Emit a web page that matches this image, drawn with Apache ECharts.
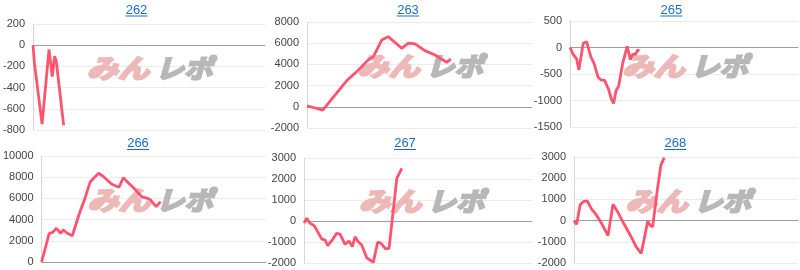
<!DOCTYPE html>
<html><head><meta charset="utf-8">
<script src="https://cdn.jsdelivr.net/npm/echarts@6/dist/echarts.min.js"></script>
<style>html,body{margin:0;padding:0;background:#fff}#c{width:800px;height:270px}</style>
</head><body><div id="c"></div>
<script>
// Chart titles
const titles = ['262', '263', '265', '266', '267', '268'];
// Y tick settings per chart
const yMins = [-800, -2000, -1500, 0, -2000, -2000];
const yMaxs = [200, 8000, 500, 10000, 3000, 3000];
const yIntervals = [200, 2000, 500, 2000, 1000, 1000];
// Series: x = progress (% of x axis), y = value
const x262 = [0, 0.6, 3.9, 6.9, 8.3, 9.3, 10.0, 13.2];
const y262 = [0, -167, -745, -40, -295, -105, -145, -755];
const x263 = [0, 7.0, 17.6, 22.1, 27.2, 29.5, 33.2, 36.1, 42.1, 45.0, 48.0, 52.4, 56.9, 62.1, 63.9];
const y263 = [100, -310, 2450, 3320, 4420, 4740, 6300, 6620, 5520, 6000, 5930, 5300, 4890, 4200, 4490];
const x265 = [0, 1.4, 2.9, 3.9, 5.8, 7.3, 9.1, 10.6, 12.3, 13.5, 15.2, 17.0, 18.1, 19.1, 20.3, 21.3, 23.2, 25.1, 26.5, 27.5, 28.7, 29.7, 30.4];
const y265 = [0, -130, -215, -420, 80, 110, -170, -310, -560, -610, -620, -800, -970, -1055, -800, -735, -280, 20, -230, -130, -130, -45, -70];
const x266 = [0, 3.4, 4.8, 6.6, 8.5, 9.7, 11.5, 13.7, 16.6, 19.3, 21.7, 25.4, 27.6, 31.3, 34.5, 36.4, 38.6, 41.5, 44.5, 48.1, 51.1, 53.0];
const y266 = [0, 2710, 2770, 3180, 2710, 3020, 2710, 2480, 4430, 6000, 7580, 8370, 8050, 7330, 7050, 7950, 7480, 6890, 6160, 5940, 5220, 5690];
const x267 = [0, 1.2, 2.6, 4.5, 7.8, 9.2, 10.4, 12.1, 14.3, 15.8, 18.0, 19.7, 21.2, 22.4, 23.8, 25.3, 27.5, 30.4, 32.3, 33.8, 35.8, 37.3, 40.7, 42.9];
const y267 = [-100, 130, -110, -220, -860, -900, -1170, -950, -590, -630, -1110, -950, -1220, -750, -990, -1140, -1750, -1970, -1010, -1060, -1330, -1300, 2030, 2510];
const x268 = [0, 1.2, 2.7, 4.1, 5.9, 7.8, 10.0, 12.3, 15.2, 17.4, 19.6, 22.6, 25.5, 27.7, 30.0, 31.4, 32.9, 33.9, 35.1, 37.3, 38.8, 40.3];
const y268 = [0, -175, 735, 890, 925, 550, 265, -130, -710, 770, 390, -210, -760, -1230, -1545, -835, -20, -210, -290, 1520, 2620, 2970];

const xs = [x262, x263, x265, x266, x267, x268];
const ys = [y262, y263, y265, y266, y267, y268];

// Layout (px)
const grids = [
  {left: 32, top: 24, width: 233, height: 106},
  {left: 307, top: 22, width: 225, height: 106},
  {left: 570, top: 21, width: 228, height: 106},
  {left: 39, top: 156, width: 227, height: 106},
  {left: 304, top: 158, width: 228, height: 105},
  {left: 574, top: 157, width: 224, height: 106}
];
const titlePos = [[136.5, 10], [408, 10], [671.3, 10], [138, 143.5], [405, 143.5], [675.3, 143.5]];
const markPos = [[149.5, 68], [420, 66], [685, 66.5], [150, 200.5], [421.5, 201.5], [688, 201.5]];

const blue = '#1c6cc7';
const markFont = 'italic bold 26px "Noto Sans CJK JP", sans-serif';
const pink = 'rgb(236,184,184)';
const grey = 'rgb(184,184,184)';
const graphic = [];
titles.forEach((t, i) => {
  const [cx, cy] = titlePos[i];
  graphic.push({type: 'text', x: cx, y: cy, z: 10,
    style: {text: t, fill: blue, font: '13px "Liberation Sans", Arial, sans-serif', textAlign: 'center', textVerticalAlign: 'middle'}});
  graphic.push({type: 'line', z: 10, shape: {x1: cx - 11, y1: cy + 6, x2: cx + 11, y2: cy + 6},
    style: {stroke: blue, lineWidth: 1}});
  const [mx, my] = markPos[i];
  graphic.push({type: 'text', x: mx - 31.5, y: my, scaleX: 1.2, z: 1, silent: true,
    style: {text: 'みん', fill: pink, stroke: pink, lineWidth: 2.2, font: markFont, textAlign: 'center', textVerticalAlign: 'middle'}});
  graphic.push({type: 'text', x: mx + 34.5, y: my, scaleX: 1.1, z: 1, silent: true,
    style: {text: 'レポ', fill: grey, stroke: grey, lineWidth: 2.2, font: markFont, textAlign: 'center', textVerticalAlign: 'middle'}});
});

const option = {
  animation: false,
  grid: grids.map(g => Object.assign({containLabel: false}, g)),
  xAxis: grids.map((g, i) => ({
    type: 'value', gridIndex: i, min: 0, max: 100,
    axisLabel: {show: false}, axisTick: {show: false}, splitLine: {show: false},
    axisLine: {show: true, onZero: true, lineStyle: {color: '#9e9e9e', width: 1}}
  })),
  yAxis: grids.map((g, i) => ({
    type: 'value', gridIndex: i, min: yMins[i], max: yMaxs[i], interval: yIntervals[i],
    axisLine: {show: true, onZero: false, lineStyle: {color: '#d6d6d6'}},
    axisTick: {show: false},
    splitLine: {show: true, lineStyle: {color: '#ebebeb'}},
    axisLabel: {color: '#444', fontSize: 11, fontFamily: '"Liberation Sans", Arial, sans-serif', margin: 8, formatter: v => String(v)}
  })),
  graphic: graphic,
  series: ys.map((y, i) => ({
    type: 'line', xAxisIndex: i, yAxisIndex: i, z: 5,
    data: y.map((v, k) => [xs[i][k], v]),
    showSymbol: false, symbol: 'none', smooth: false,
    lineStyle: {color: '#ff5470', width: 2.8}
  }))
};
const chart = echarts.init(document.getElementById('c'), null, {renderer: 'canvas'});
chart.setOption(option);
</script></body></html>
